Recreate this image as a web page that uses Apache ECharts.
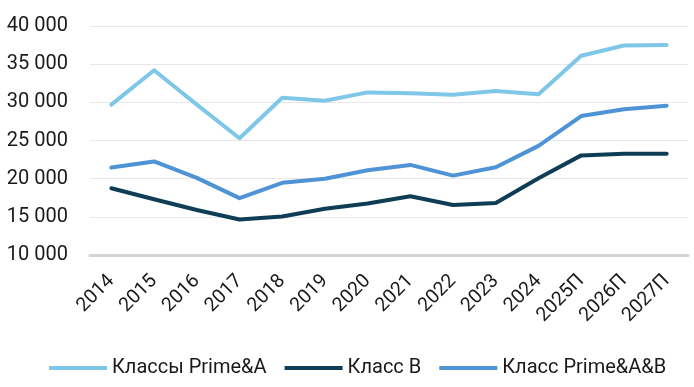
<!DOCTYPE html>
<html>
<head>
<meta charset="utf-8">
<script src="https://cdn.jsdelivr.net/npm/echarts@6/dist/echarts.min.js"></script>
<style>
html,body{margin:0;padding:0;background:#fff;}
#c{width:694px;height:387px;}
</style>
</head>
<body>
<div id="c"></div>
<script>
var categories = ['2014','2015','2016','2017','2018','2019','2020','2021','2022','2023','2024','2025П','2026П','2027П'];
var primeA = [29700, 34200, 29700, 25300, 30600, 30200, 31300, 31200, 31000, 31500, 31050, 36100, 37450, 37500];
var classB = [18750, 17300, 15900, 14650, 15050, 16050, 16750, 17700, 16550, 16800, 20050, 23050, 23250, 23250];
var primeAB = [21450, 22250, 20100, 17450, 19450, 20000, 21100, 21800, 20400, 21500, 24300, 28200, 29100, 29550];
var seriesNames = ['Классы Prime&A', 'Класс В', 'Класс Prime&A&B'];
var colors = ['#7FC7E8', '#0F3D55', '#4D93D6'];

var FONT = 'Roboto, sans-serif';

var chart = echarts.init(document.getElementById('c'), null, {renderer: 'canvas'});
function fmt(v){ return String(v).replace(/\B(?=(\d{3})+(?!\d))/g, ' '); }
var dataSets = [primeA, classB, primeAB];
chart.setOption({
  animation: false,
  backgroundColor: '#fff',
  color: colors,
  grid: {left: 90, right: 6, top: 26, bottom: 132},
  legend: {
    top: 353,
    left: 44,
    icon: 'rect',
    itemWidth: 58,
    itemHeight: 4,
    itemGap: 18,
    textStyle: {fontFamily: FONT, fontSize: 20, color: '#1a1a1a'},
    data: seriesNames
  },
  xAxis: {
    type: 'category',
    data: categories,
    boundaryGap: true,
    axisLine: {lineStyle: {color: '#d4d4d4', width: 3}},
    axisTick: {show: false},
    axisLabel: {rotate: 45, margin: 23, interval: 0, fontFamily: FONT, fontSize: 19.5, color: '#1a1a1a'}
  },
  yAxis: {
    type: 'value',
    min: 10000, max: 40000, interval: 5000,
    axisLine: {show: false},
    axisTick: {show: false},
    splitLine: {lineStyle: {color: '#e8e8e8', width: 1}},
    axisLabel: {margin: 22, fontFamily: FONT, fontSize: 20, color: '#1a1a1a', formatter: fmt}
  },
  series: seriesNames.map(function(n, i){
    return {
      name: n, type: 'line', data: dataSets[i],
      symbol: 'none', smooth: false,
      lineStyle: {width: 4, color: colors[i], cap: 'round', join: 'round'},
      itemStyle: {color: colors[i]}
    };
  })
});
</script>
</body>
</html>
